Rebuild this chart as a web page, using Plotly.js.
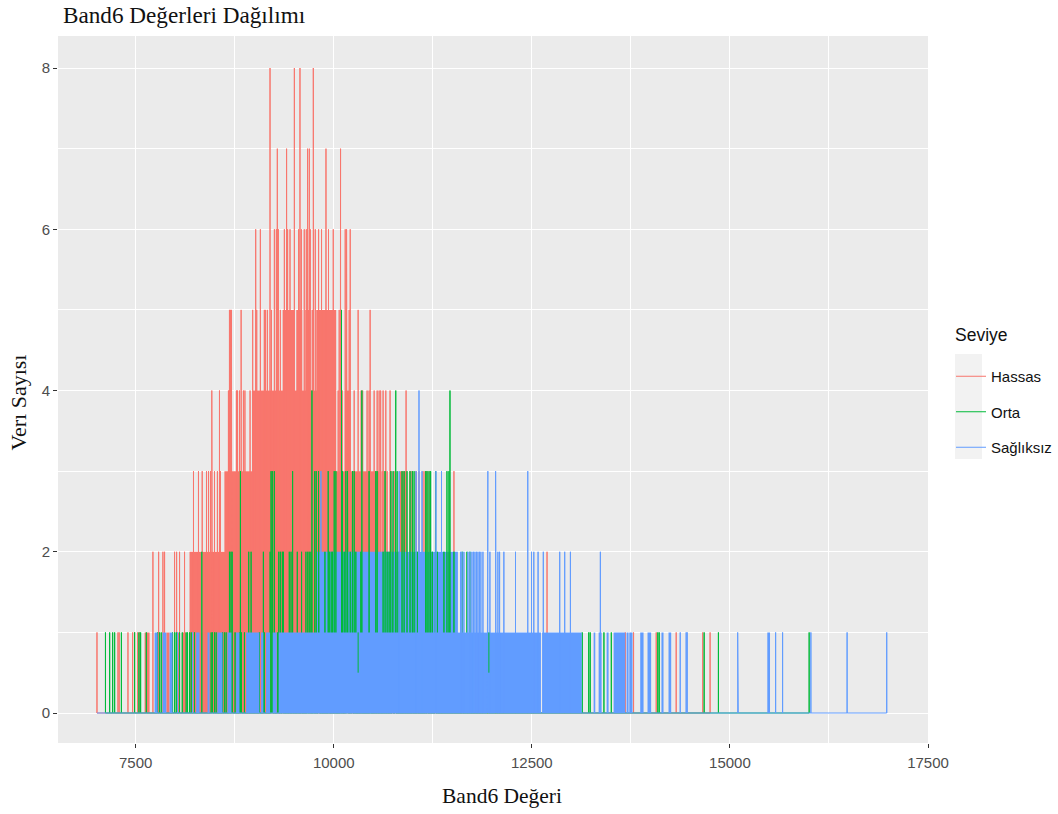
<!DOCTYPE html>
<html><head><meta charset="utf-8">
<script src="https://cdn.plot.ly/plotly-3.0.1.min.js"></script>
<style>html,body{margin:0;padding:0;background:#fff}</style></head>
<body><div id="chart" style="width:1058px;height:814px"></div>
<script>
const seriesNames = ['Hassas', 'Orta', 'Sağlıksız'];
const seriesColors = ['#F8766D', '#00BA38', '#619CFF'];

// Hassas: values whose count reaches each height
const hassas8 = [9196,9503,9574,9742];
const hassas7 = [9288,9405,9670,9692,9902,10086];
const hassas6 = [9015,9074,9251,9276,9301,9377,9418,9448,9557,9591,9628,9654,9679,9704,9767,9809,9846,9934,9994,10145,10162,10208];
const hassas5 = [8684,8696,8709,8831,8977,9028,9124,9137,9162,9213,9301,9326,9729,9748,10069,10145,10170,10195,10208,10308,10459];
const hassas4 = [8461,8558,8671,8684,8696,8715,8772,8785,8810,8835,8860,8879,8944,10019,10056,10081,10107,10258,10346,10365,10421,10446,10465,10510,10548,10573,10592,10623,10657,10711,10913];
const hassas3 = [8230,8293,8340,8394,8419,8444,8470,8495,8532,8570,10611,10636,10674,10724,10762,10963,10988,11039,11076,11127,11152,11177,11215,11517];
const hassas2 = [7718,7790,7844,7865,7991,8017,8054,8117,12692];
const hassas1 = [7012,7277,7292,7403,7462,7487,7525,7550,13680,13784,14070,14322,14657,14750];
// Hassas: stretches so dense they read as solid [from, to, height]
const hassasRuns = [[9355,9502,5],[9527,9603,5],[9641,9697,5],[9779,10031,5],
  [8970,9981,4],[10141,10216,4],[8620,10573,3],[10825,10925,3],
  [8180,8325,2],[8344,8390,2],[8400,10825,2],
  [7613,7676,1],[7887,7928,1],[8012,8054,1],[8088,8138,1],[8201,8264,1],[8331,8407,1],[8516,8532,1]];

// Orta
const orta5 = [10098];
const orta4 = [9725,10355,10783,11467];
const orta3 = [8822,9209,9225,9250,9481,9760,9779,9808,9930,10006,10027,10111,10153,10174,10237,10258,10446,10531,10548,10648,10720,10749,10774,10800,10862,10888,10925,10963,10992,11014,11161,11177,11202,11223,11286,11429,11454];
const orta2 = [8335,8684,8703,8718,8927,8957,9112,9197,9213,9230,9306,9326,9351,9364,9439,9461,9540,9594,9649,9672,9691,9712,9817,9889,9943,9968,9985,10027,10132,10157,10182,10208,10229,10279,10342,10623,10648,10674,10699,10740,10825,11014,11039,11055,11181,11244,11278,11307,11391,11517,11622,11681,11719];
const orta1 = [7119,7172,7210,7235,7320,7487,7541,7563,7635,7777,7802,7823,7966,7991,8012,8054,8088,8138,8155,8180,8201,8243,8453,8470,8495,8516,8596,8620,8642,8721,8755,8810,8835,8873,9061,9124,9209,9292,9355,13136,13218,13237,13410,13503,14090,14108,14675,14855,16000];
const ortaHalfBand = [10308,11958];

// Sağlıksız
const saglik4 = [11076];
const saglik3 = [9838,10825,11039,11114,11290,11360,11945,12043,12449];
const saglik2 = [11602,11618,11643,11694,11719,11744,11763,11782,11801,11820,11839,11857,11883,11937,11971,12050,12072,12093,12147,12294,12496,12525,12579,12645,12852,12915,12987,13365];
const saglik1 = [8029,8218,14373,14448,14461,15098,15106,15577,15665,16022,16479,16979];
const saglikHalf = [14461,15106];
const saglik0 = [7012];
const saglikUpperRuns = [[9779,11567,2]];
const saglikLowerRuns = [[7739,7777,1],[7840,7887,1],[7928,7966,1],[8264,8306,1],[8407,8432,1],
  [8532,8596,1],[8659,8709,1],[8768,8810,1],[8894,9061,1],[9083,9112,1],[9146,9196,1],[9230,9280,1],
  [9305,12615,1],[12630,13130,1],
  [13280,13301,1],[13343,13381,1],[13444,13469,1],[13532,13679,1],[13696,13721,1],[13730,13771,1],
  [13868,13910,1],[13960,14006,1],[14136,14162,1],[14225,14259,1],[15472,15506,1]];

const xTicks = [7500,10000,12500,15000,17500];
const yTicks = [0,2,4,6,8];

function spikes(groups) {
  const pts = [];
  groups.forEach(g => g.vals.forEach(v => pts.push([v, g.h])));
  pts.sort((a, b) => a[0] - b[0]);
  const x = [], y = [];
  pts.forEach(p => { x.push(p[0], p[0], p[0]); y.push(0, p[1], 0); });
  return {x, y};
}
function solid(runs, color) {
  const x = [], y = [];
  runs.forEach(r => { x.push(r[0], r[0], r[1], r[1], r[0], null); y.push(0, r[2], r[2], 0, 0, null); });
  return {x, y, type:'scatter', mode:'lines', fill:'toself', fillcolor:color, line:{width:0, color:color},
          showlegend:false, hoverinfo:'skip'};
}
function spikeTrace(i, groups) {
  const s = spikes(groups);
  return {x:s.x, y:s.y, type:'scatter', mode:'lines', name:seriesNames[i], legendgroup:seriesNames[i],
          legendrank:i+1, line:{color:seriesColors[i], width:1}, showlegend:true};
}
const halfX = [], halfY = [];
ortaHalfBand.forEach(v => { halfX.push(v, v, null); halfY.push(0.5, 1, null); });

const traces = [
  solid(hassasRuns, seriesColors[0]),
  spikeTrace(0, [{vals:hassas8,h:8},{vals:hassas7,h:7},{vals:hassas6,h:6},{vals:hassas5,h:5},{vals:hassas4,h:4},{vals:hassas3,h:3},{vals:hassas2,h:2},{vals:hassas1,h:1}]),
  solid(saglikUpperRuns, seriesColors[2]),
  spikeTrace(1, [{vals:orta5,h:5},{vals:orta4,h:4},{vals:orta3,h:3},{vals:orta2,h:2},{vals:orta1,h:1}]),
  solid(saglikLowerRuns, seriesColors[2]),
  spikeTrace(2, [{vals:saglik4,h:4},{vals:saglik3,h:3},{vals:saglik2,h:2},{vals:saglik1,h:1},{vals:saglikHalf,h:0.5},{vals:saglik0,h:0}]),
  {x:halfX, y:halfY, type:'scatter', mode:'lines', line:{color:seriesColors[1], width:1}, showlegend:false, hoverinfo:'skip'}
];

const serif = '"Liberation Serif", serif';
const sans = '"Liberation Sans", Arial, sans-serif';
const layout = {
  width:1058, height:814,
  margin:{l:58, r:130, t:36, b:71, pad:0},
  paper_bgcolor:'#ffffff', plot_bgcolor:'#ebebeb',
  title:{text:'Band6 Değerleri Dağılımı', x:63/1058, xanchor:'left', y:1-15/814, yanchor:'middle', font:{family:serif, size:23.2, color:'#111'}},
  xaxis:{range:[6520,17500], tickvals:xTicks, tickformat:'d', ticks:'outside', ticklen:4, tickcolor:'#333', tickwidth:1, ticklabelstandoff:2,
         tickfont:{family:sans, size:15, color:'#4d4d4d'}, gridcolor:'#ffffff', gridwidth:1.4, zeroline:false, showline:false,
         minor:{dtick:2500, tick0:8750, showgrid:true, gridcolor:'#ffffff', gridwidth:0.7}},
  yaxis:{range:[-0.372,8.397], tickvals:yTicks, ticks:'outside', ticklen:4, tickcolor:'#333', tickwidth:1,
         tickfont:{family:sans, size:15, color:'#4d4d4d'}, gridcolor:'#ffffff', gridwidth:1.4, zeroline:false, showline:false,
         minor:{dtick:2, tick0:1, showgrid:true, gridcolor:'#ffffff', gridwidth:0.7}},
  showlegend:true,
  legend:{x:951/1058, xref:'container', y:1-360/814, yref:'container', xanchor:'left', yanchor:'top', traceorder:'grouped',
          tracegroupgap:13, itemwidth:30, bgcolor:'rgba(0,0,0,0)', itemclick:false, itemdoubleclick:false,
          font:{family:sans, size:15, color:'#111'}},
  annotations:[
    {text:'Seviye', xref:'paper', yref:'paper', x:(955-58)/870, y:(743-335)/707, xanchor:'left', yanchor:'middle',
     showarrow:false, xshift:-2, font:{family:sans, size:17.5, color:'#111'}},
    {text:'Band6 Değeri', xref:'paper', yref:'paper', x:(501.5-58)/870, y:(743-796)/707, xanchor:'center', yanchor:'middle',
     showarrow:false, font:{family:serif, size:21.5, color:'#111'}},
    {text:'Verı Sayısı', xref:'paper', yref:'paper', x:(18-58)/870, y:(743-402.5)/707, xanchor:'center', yanchor:'middle',
     textangle:-90, showarrow:false, font:{family:serif, size:22, color:'#111'}}
  ],
  shapes:[{type:'rect', xref:'paper', yref:'paper', layer:'below',
           x0:(955-58)/870, x1:(982-58)/870, y0:(743-459)/707, y1:(743-354)/707,
           fillcolor:'#f2f2f2', line:{width:0}}]
};
Plotly.newPlot('chart', traces, layout, {displayModeBar:false, responsive:false});
</script></body></html>
